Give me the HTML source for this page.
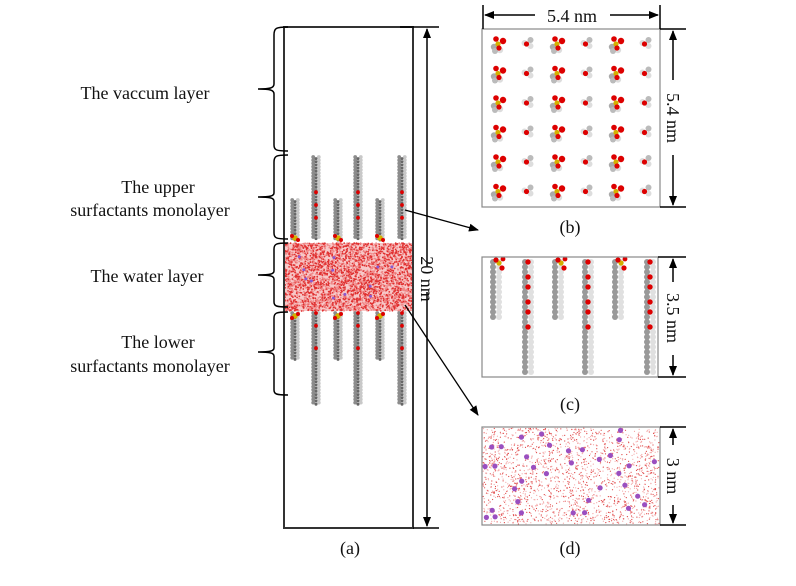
<!DOCTYPE html><html><head><style>body{margin:0;background:#fff}svg{display:block;font-family:"Liberation Serif",serif}</style></head><body>
<svg id="s" width="796" height="586" viewBox="0 0 796 586" xmlns="http://www.w3.org/2000/svg">
<defs><marker id="a" markerWidth="10" markerHeight="10" refX="9" refY="5" orient="auto" markerUnits="userSpaceOnUse"><path d="M0,1 L10,5 L0,9 Z" fill="#000"/></marker></defs>
<g id="dots"></g>
<g fill="none" stroke="#000" stroke-width="1.5">
<path d="M284,27 V528 H413 V27 Z" stroke="#333" stroke-width="2"/>
<path d="M400,27 H439 M413,528 H439"/>
<path d="M427,266 V29" marker-end="url(#a)"/><path d="M427,292 V526" marker-end="url(#a)"/>
<path d="M288,27 C276,27 274,28 274,35 V84 C274,88 270,89 258,89 C270,89 274,90 274,94 V145 C274,150 276,151 288,151"/>
<path d="M288,155 C276,155 274,156 274,162 V193 C274,196 270,197 258,197 C270,197 274,198 274,201 V233 C274,238 276,239 288,239"/>
<path d="M288,243 C276,243 274,244 274,249 V271 C274,274 270,275 258,275 C270,275 274,276 274,279 V302 C274,306 276,307 288,307"/>
<path d="M288,312 C276,312 274,313 274,318 V348 C274,351 270,352 258,352 C270,352 274,353 274,356 V390 C274,394 276,395 288,395"/>
<rect x="482" y="29" width="178" height="178" stroke="#888" stroke-width="1.2"/>
<rect x="482" y="257" width="176" height="120" stroke="#888" stroke-width="1.2"/>
<rect x="482" y="427" width="178" height="98" stroke="#888" stroke-width="1.2"/>
<path d="M483,5 V29 M660,5 V29 M660,29 H686 M660,207 H686 M658,257 H686 M658,377 H686 M660,427 H686 M660,525 H686"/>
<path d="M535,15 H485" marker-end="url(#a)"/><path d="M610,15 H658" marker-end="url(#a)"/>
<path d="M673,80 V31" marker-end="url(#a)"/><path d="M673,155 V205" marker-end="url(#a)"/>
<path d="M673,282 V259" marker-end="url(#a)"/><path d="M673,355 V375" marker-end="url(#a)"/>
<path d="M673,445 V429" marker-end="url(#a)"/><path d="M673,505 V523" marker-end="url(#a)"/>
<path d="M405,210 L478,230" marker-end="url(#a)" stroke-width="1.3"/>
<path d="M405,305 L478,415" marker-end="url(#a)" stroke-width="1.3"/>
</g>
<g font-size="18" text-anchor="middle" fill="#111">
<text x="145" y="99">The vaccum layer</text>
<text x="158" y="193">The upper</text><text x="150" y="216">surfactants monolayer</text>
<text x="147" y="282">The water layer</text>
<text x="158" y="348">The lower</text><text x="150" y="372">surfactants monolayer</text>
<text x="572" y="22">5.4 nm</text>
<text x="570" y="233">(b)</text><text x="570" y="410">(c)</text><text x="570" y="554">(d)</text><text x="350" y="554">(a)</text>
<text transform="translate(421,279) rotate(90)">20 nm</text>
<text transform="translate(667,118) rotate(90)">5.4 nm</text>
<text transform="translate(667,318) rotate(90)">3.5 nm</text>
<text transform="translate(667,476) rotate(90)">3 nm</text>
</g>
</svg>
<script>
var g=document.getElementById('dots'),h='',sd=7;function r(){sd=(sd*16807)%2147483647;return sd/2147483647;}
function c(x,y,rr,f){h+='<circle cx="'+x.toFixed(1)+'" cy="'+y.toFixed(1)+'" r="'+rr+'" fill="'+f+'"/>';}
h+='<rect x="285" y="243" width="127" height="68" fill="#f7c8c8"/>';
for(var i=0;i<3200;i++)c(285+r()*127,243+r()*68,0.9,r()<.55?'#e03030':'#f08888');
for(var i=0;i<2000;i++)c(483+r()*176,428+r()*96,0.6,r()<.5?'#e04848':'#f4a8a8');
for(var i=0;i<35;i++)c(485+r()*172,430+r()*92,2.6,'#9a4fc0');
for(var i=0;i<12;i++)c(290+r()*118,250+r()*55,1.5,'#8a5ad0');
var xs=[295,316,338,358,380,402];
for(var k=0;k<6;k++){var x=xs[k],lng=k%2==1;var t0=lng?157:200;
for(var y=t0;y<240;y+=3.2){c(x-2.8,y,1.9,'#8c8c8c');c(x+2.8,y,1.9,'#c8c8c8');c(x,y+1.6,1.5,'#666');if(lng&&y>175&&(Math.round(y))%12<3)c(x,y,1.9,'#d00');}
if(!lng){c(x,238,2.8,'#d4b000');c(x-3,236,2,'#d00');c(x+3,240,2,'#d00');}
var bot=lng?405:360;for(var y=313;y<bot;y+=3.2){c(x-2.8,y,1.9,'#8c8c8c');c(x+2.8,y,1.9,'#c8c8c8');c(x,y+1.6,1.5,'#666');if(lng&&y<350&&(Math.round(y))%12<3)c(x,y,1.9,'#d00');}
if(!lng){c(x,316,2.8,'#d4b000');c(x-3,318,2,'#d00');c(x+3,314,2,'#d00');}}
for(var i=0;i<6;i++)for(var j=0;j<6;j++){var x=498+j*29.5,y=43+i*29.5;if(j%2==0){c(x-4,y+4,3.2,'#aaa');c(x+2,y+7,3.2,'#ddd');c(x-3,y+8,3,'#bbb');c(x,y+1,2.6,'#d4b000');c(x+5,y-2,3.2,'#d00');c(x-2,y-4,2.8,'#d00');c(x+1,y+5,2.6,'#d00');}else{c(x-3,y,3,'#ddd');c(x+3,y-3,3,'#bbb');c(x+3,y+3,3,'#ddd');c(x-1,y+1,2.6,'#d00');}}
var cx=[496,528,558,588,618,650];
for(var k=0;k<6;k++){var x=cx[k],lng=k%2==1,bot=lng?375:318;for(var y=262;y<bot;y+=5){c(x-3,y,3,'#999');c(x+3,y,3,'#e0e0e0');if(lng&&y<330&&(y%13)<5)c(x,y,2.7,'#d00');}if(!lng){c(x+3,263,2.6,'#d4b000');c(x,260,2.6,'#d00');c(x+6,268,2.6,'#d00');c(x+7,259,2.4,'#d00');}}
g.innerHTML=h;
</script>
</body></html>
